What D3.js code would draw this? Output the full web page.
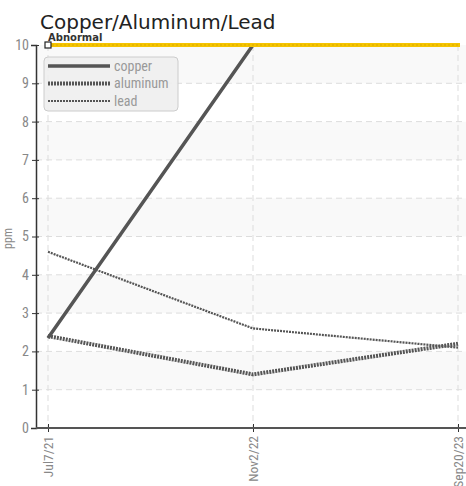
<!DOCTYPE html>
<html>
<head>
<meta charset="utf-8">
<script src="https://cdn.jsdelivr.net/npm/d3@7"></script>
<style>
  body { margin: 0; background: #fff; }
  svg text { font-family: "Roboto Condensed", "Liberation Sans Narrow", "DejaVu Sans Condensed", sans-serif; }
</style>
</head>
<body>
<svg id="chart"></svg>
<script>
// categories and series
var dates = ['Jul7/21', 'Nov2/22', 'Sep20/23']
var copper = [2.35, 10, 10]
var aluminum = [2.4, 1.4, 2.2]
var lead = [4.6, 2.6, 2.1]
var yTicks = [0, 1, 2, 3, 4, 5, 6, 7, 8, 9, 10]
var abnormalLevel = 10

var series = [
    { name: 'copper', values: copper, width: 3.5, dash: null },
    { name: 'aluminum', values: aluminum, width: 4, dash: '2,1' },
    { name: 'lead', values: lead, width: 2.2, dash: '2,1' }
]

drawChart()

function drawChart() {
    var svgWidth = 466, svgHeight = 486
    var left = 36, top = 45, bottom = 428, right = 466

    var svg = d3.select('#chart')
        .attr('width', svgWidth)
        .attr('height', svgHeight)

    var x = d3.scalePoint()
        .domain(dates)
        .range([48, 458])

    var y = d3.scaleLinear()
        .domain([0, 10])
        .range([bottom, top])

    // alternating bands, grey at the top
    svg.append('g').selectAll('rect')
        .data(yTicks.slice(0, -1))
        .enter().append('rect')
        .attr('x', left)
        .attr('width', right - left)
        .attr('y', function(d) { return y(d + 1) })
        .attr('height', function(d) { return y(d) - y(d + 1) })
        .attr('fill', function(d) { return d % 2 === 1 ? '#f9f9f9' : '#fff' })

    // dashed grid
    svg.append('g').selectAll('line')
        .data(yTicks.slice(1, -1))
        .enter().append('line')
        .attr('x1', left).attr('x2', right)
        .attr('y1', function(d) { return y(d) })
        .attr('y2', function(d) { return y(d) })
        .attr('stroke', '#ddd')
        .attr('stroke-dasharray', '6,4')

    svg.append('g').selectAll('line')
        .data(dates)
        .enter().append('line')
        .attr('x1', function(d) { return x(d) })
        .attr('x2', function(d) { return x(d) })
        .attr('y1', top).attr('y2', bottom)
        .attr('stroke', '#ddd')
        .attr('stroke-dasharray', '6,4')

    // y axis
    var yAxis = svg.append('g')
        .attr('transform', 'translate(' + left + ',0)')
        .call(d3.axisLeft(y).tickValues(yTicks).tickSize(5).tickPadding(2))
    yAxis.select('.domain').attr('stroke', '#333').attr('stroke-width', 1.5)
    yAxis.selectAll('.tick line').attr('stroke', '#333').attr('x2', 3).attr('x1', -4)
    yAxis.selectAll('.tick text')
        .attr('fill', '#888')
        .style('font-size', '14px')

    // x axis
    var xAxis = svg.append('g')
        .attr('transform', 'translate(0,' + bottom + ')')
        .call(d3.axisBottom(x).tickSize(5).tickSizeOuter(0))
    xAxis.select('.domain').remove()
    xAxis.selectAll('.tick line').attr('stroke', '#333').attr('y1', -4).attr('y2', 4)
    xAxis.selectAll('.tick text')
        .attr('fill', '#888')
        .style('font-size', '13.5px')
        .attr('transform', 'rotate(-90)')
        .attr('text-anchor', 'end')
        .attr('x', -8)
        .attr('y', 0)
        .attr('dy', '0.35em')

    svg.append('line')
        .attr('x1', left).attr('x2', right)
        .attr('y1', bottom).attr('y2', bottom)
        .attr('stroke', '#555')
        .attr('stroke-width', 2)

    // y label
    svg.append('text')
        .attr('transform', 'translate(12,' + (y(5) + 2) + ') rotate(-90)')
        .attr('text-anchor', 'middle')
        .attr('fill', '#888')
        .style('font-size', '12px')
        .text('ppm')

    // series lines
    var line = d3.line()
        .x(function(d, i) { return x(dates[i]) })
        .y(function(d) { return y(d) })

    svg.append('g').selectAll('path')
        .data(series)
        .enter().append('path')
        .attr('d', function(s) { return line(s.values) })
        .attr('fill', 'none')
        .attr('stroke', '#555')
        .attr('stroke-width', function(s) { return s.width })
        .attr('stroke-dasharray', function(s) { return s.dash })
        .attr('stroke-linejoin', 'round')

    // abnormal limit
    svg.append('line')
        .attr('x1', x(dates[0])).attr('x2', x(dates[2]) + 2)
        .attr('y1', y(abnormalLevel)).attr('y2', y(abnormalLevel))
        .attr('stroke', '#f5c400')
        .attr('stroke-width', 4)
    svg.append('line')
        .attr('x1', x(dates[0])).attr('x2', x(dates[2]) + 2)
        .attr('y1', y(abnormalLevel)).attr('y2', y(abnormalLevel))
        .attr('stroke', '#d9ab00')
        .attr('stroke-width', 1)
        .attr('stroke-dasharray', '2,2')

    svg.append('rect')
        .attr('x', x(dates[0]) - 3).attr('y', y(abnormalLevel) - 3)
        .attr('width', 6).attr('height', 6)
        .attr('fill', '#fff')
        .attr('stroke', '#222')
        .attr('stroke-width', 1.2)

    svg.append('text')
        .attr('x', x(dates[0]))
        .attr('y', y(abnormalLevel) - 4)
        .attr('fill', '#333')
        .style('font-family', '"DejaVu Sans", sans-serif')
        .style('font-size', '10px')
        .style('font-weight', 'bold')
        .text('Abnormal')

    // title
    svg.append('text')
        .attr('x', 40)
        .attr('y', 29)
        .attr('fill', '#222')
        .style('font-family', '"DejaVu Sans", sans-serif')
        .style('font-size', '20px')
        .text('Copper/Aluminum/Lead')

    // legend
    var legend = svg.append('g').attr('transform', 'translate(44,57)')
    legend.append('rect')
        .attr('width', 134).attr('height', 54)
        .attr('rx', 4)
        .attr('fill', '#eee')
        .attr('fill-opacity', 0.9)
        .attr('stroke', '#ccc')

    var item = legend.selectAll('.item')
        .data(series)
        .enter().append('g')
        .attr('transform', function(s, i) { return 'translate(4,' + (9 + i * 17.5) + ')' })

    item.append('line')
        .attr('x1', 0).attr('x2', 62)
        .attr('stroke', '#555')
        .attr('stroke-width', function(s) { return s.width })
        .attr('stroke-dasharray', function(s) { return s.dash })

    item.append('text')
        .attr('x', 66)
        .attr('dy', '0.35em')
        .attr('fill', '#999')
        .style('font-size', '14px')
        .text(function(s) { return s.name })
}
</script>
</body>
</html>
